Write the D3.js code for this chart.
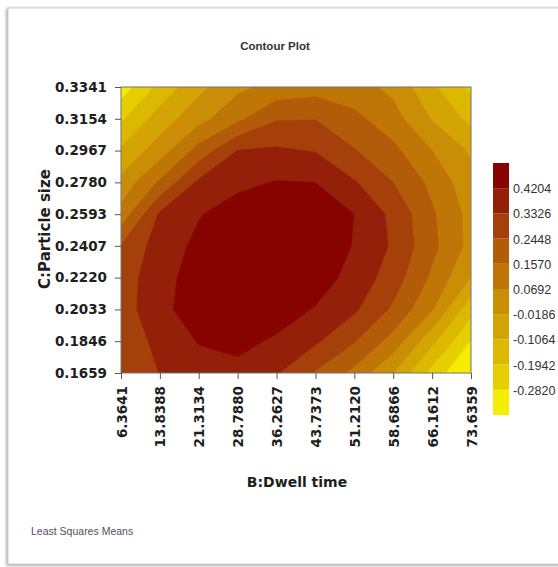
<!DOCTYPE html>
<html>
<head>
<meta charset="utf-8">
<script src="https://cdn.jsdelivr.net/npm/d3@7"></script>
<style>
  html, body { margin: 0; padding: 0; background: #fff; }
  svg { display: block; }
</style>
</head>
<body>
<svg id="chart" width="558" height="567"></svg>
<script>
// B: Dwell time tick values (also the grid columns)
const xTicks = [6.3641, 13.8388, 21.3134, 28.7880, 36.2627, 43.7373, 51.2120, 58.6866, 66.1612, 73.6359];
// C: Particle size tick values, top to bottom (also the grid rows)
const yTicks = [0.3341, 0.3154, 0.2967, 0.2780, 0.2593, 0.2407, 0.2220, 0.2033, 0.1846, 0.1659];
// contour levels shown in the legend
const legendLevels = [0.4204, 0.3326, 0.2448, 0.1570, 0.0692, -0.0186, -0.1064, -0.1942, -0.2820];
// fill for each band, lowest band first
const bandColors = ["#f6ee00", "#e6cf00", "#dcb900", "#d3a403", "#c98e05", "#bf7607", "#b25c09", "#a5400a", "#95200a", "#860300"];
// least squares means on the grid: rows follow yTicks, columns follow xTicks
const zRows = [
  [-0.330, -0.168, -0.042, 0.049, 0.100, 0.120, 0.105, 0.046, -0.090, -0.215],
  [-0.209, -0.065, 0.038, 0.138, 0.238, 0.242, 0.180, 0.104, -0.024, -0.130],
  [-0.092, 0.025, 0.190, 0.335, 0.345, 0.328, 0.250, 0.179, 0.069, -0.031],
  [0.008, 0.170, 0.350, 0.400, 0.425, 0.420, 0.340, 0.245, 0.134, 0.010],
  [0.100, 0.345, 0.415, 0.460, 0.480, 0.470, 0.420, 0.310, 0.170, 0.040],
  [0.250, 0.375, 0.440, 0.490, 0.500, 0.480, 0.415, 0.320, 0.180, 0.040],
  [0.280, 0.397, 0.450, 0.490, 0.495, 0.460, 0.392, 0.287, 0.141, -0.020],
  [0.280, 0.410, 0.440, 0.470, 0.455, 0.415, 0.346, 0.230, 0.077, -0.167],
  [0.270, 0.360, 0.425, 0.440, 0.410, 0.345, 0.250, 0.122, -0.084, -0.286],
  [0.260, 0.335, 0.385, 0.400, 0.340, 0.237, 0.133, -0.019, -0.225, -0.390]
];

const svg = d3.select("#chart");
const plot = { left: 121, right: 471, top: 87, bottom: 373 };

// card frame with a soft shadow
const defs = svg.append("defs");
const shadow = defs.append("filter").attr("id", "cardShadow")
  .attr("x", "-5%").attr("y", "-5%").attr("width", "110%").attr("height", "110%");
shadow.append("feDropShadow").attr("dx", -1).attr("dy", 1)
  .attr("stdDeviation", 1.4).attr("flood-color", "#7a7a7a").attr("flood-opacity", 0.8);
svg.append("rect").attr("x", 8).attr("y", 8).attr("width", 600).attr("height", 556)
  .attr("fill", "#fff").attr("stroke", "#cfcfcf").attr("filter", "url(#cardShadow)");

const x = d3.scaleLinear().domain([xTicks[0], xTicks[xTicks.length - 1]]).range([plot.left, plot.right]);
const y = d3.scaleLinear().domain([yTicks[yTicks.length - 1], yTicks[0]]).range([plot.bottom, plot.top]);

// grid index space -> data space (d3.contours puts sample i at i + 0.5)
const nx = xTicks.length, ny = yTicks.length;
const gx = d3.scaleLinear().domain([0.5, nx - 0.5]).range([xTicks[0], xTicks[nx - 1]]);
const gy = d3.scaleLinear().domain([0.5, ny - 0.5]).range([yTicks[0], yTicks[ny - 1]]);
const proj = d3.geoTransform({
  point(px, py) { this.stream.point(x(gx(px)), y(gy(py))); }
});
const path = d3.geoPath(proj);

const thresholds = legendLevels.slice().sort(d3.ascending);
const contours = d3.contours().size([nx, ny]).thresholds(thresholds)(zRows.flat());

defs.append("clipPath").attr("id", "plotClip").append("rect")
  .attr("x", plot.left).attr("y", plot.top)
  .attr("width", plot.right - plot.left).attr("height", plot.bottom - plot.top);

const g = svg.append("g").attr("clip-path", "url(#plotClip)");
g.append("rect")
  .attr("x", plot.left).attr("y", plot.top)
  .attr("width", plot.right - plot.left).attr("height", plot.bottom - plot.top)
  .attr("fill", bandColors[0]);
g.selectAll("path.band").data(contours).join("path")
  .attr("class", "band")
  .attr("d", path)
  .attr("fill", (d, i) => bandColors[i + 1])
  .attr("stroke", (d, i) => bandColors[i + 1])
  .attr("stroke-width", 0.4);

svg.append("rect")
  .attr("x", plot.left).attr("y", plot.top)
  .attr("width", plot.right - plot.left).attr("height", plot.bottom - plot.top)
  .attr("fill", "none").attr("stroke", "#737373").attr("stroke-width", 1);

// four decimals, plain hyphen for negatives
const fmt = d => d.toFixed(4);
const tickFont = "'DejaVu Sans', Verdana, sans-serif";

// left axis
const yAxis = svg.append("g").attr("transform", `translate(${plot.left},0)`)
  .call(d3.axisLeft(y).tickValues(yTicks).tickFormat(fmt).tickSize(6).tickPadding(8));
yAxis.select(".domain").remove();
yAxis.selectAll(".tick line").attr("stroke", "#555");
yAxis.selectAll(".tick text")
  .attr("font-family", tickFont).attr("font-weight", "bold")
  .attr("font-size", 13.5).attr("fill", "#1e1e1e");

// bottom axis with vertical labels
const xAxis = svg.append("g").attr("transform", `translate(0,${plot.bottom})`)
  .call(d3.axisBottom(x).tickValues(xTicks).tickFormat(fmt).tickSize(6).tickPadding(8));
xAxis.select(".domain").remove();
xAxis.selectAll(".tick line").attr("stroke", "#555");
xAxis.selectAll(".tick text")
  .attr("font-family", tickFont).attr("font-weight", "bold")
  .attr("font-size", 13.5).attr("fill", "#1e1e1e")
  .attr("text-anchor", "end")
  .attr("dy", null)
  .attr("dominant-baseline", "central")
  .attr("transform", "translate(0,13) rotate(-90)")
  .attr("x", 0).attr("y", 0);

// titles
svg.append("text").attr("x", 275).attr("y", 50)
  .attr("text-anchor", "middle")
  .attr("font-family", "'Liberation Sans', Arial, sans-serif")
  .attr("font-weight", "bold")
  .attr("font-size", 11.5).attr("fill", "#333")
  .text("Contour Plot");

svg.append("text").attr("x", (plot.left + plot.right) / 2 + 1).attr("y", 487)
  .attr("text-anchor", "middle")
  .attr("font-family", tickFont).attr("font-weight", "bold")
  .attr("font-size", 14).attr("fill", "#1e1e1e")
  .text("B:Dwell time");

svg.append("text")
  .attr("transform", "translate(50,229) rotate(-90)")
  .attr("text-anchor", "middle")
  .attr("font-family", tickFont).attr("font-weight", "bold")
  .attr("font-size", 15).attr("fill", "#1e1e1e")
  .text("C:Particle size");

svg.append("text").attr("x", 31).attr("y", 535)
  .attr("font-family", "'Liberation Sans', Arial, sans-serif")
  .attr("font-size", 10.5).attr("fill", "#5a4a5e")
  .text("Least Squares Means");

// colour legend
const step = legendLevels[0] - legendLevels[1];
const ly = d3.scaleLinear()
  .domain([thresholds[0] - step, thresholds[thresholds.length - 1] + step])
  .range([415, 163]);
const bandEdges = [thresholds[0] - step, ...thresholds, thresholds[thresholds.length - 1] + step];
const legend = svg.append("g");
legend.selectAll("rect").data(bandColors).join("rect")
  .attr("x", 493).attr("width", 16)
  .attr("y", (d, i) => ly(bandEdges[i + 1]))
  .attr("height", (d, i) => ly(bandEdges[i]) - ly(bandEdges[i + 1]))
  .attr("fill", d => d);
legend.selectAll("text").data(legendLevels).join("text")
  .attr("x", 513).attr("y", d => ly(d) + 1)
  .attr("dominant-baseline", "central")
  .attr("font-family", "'Liberation Sans', Arial, sans-serif")
  .attr("font-size", 12.5).attr("fill", "#333")
  .text(d => fmt(d));
</script>
</body>
</html>
